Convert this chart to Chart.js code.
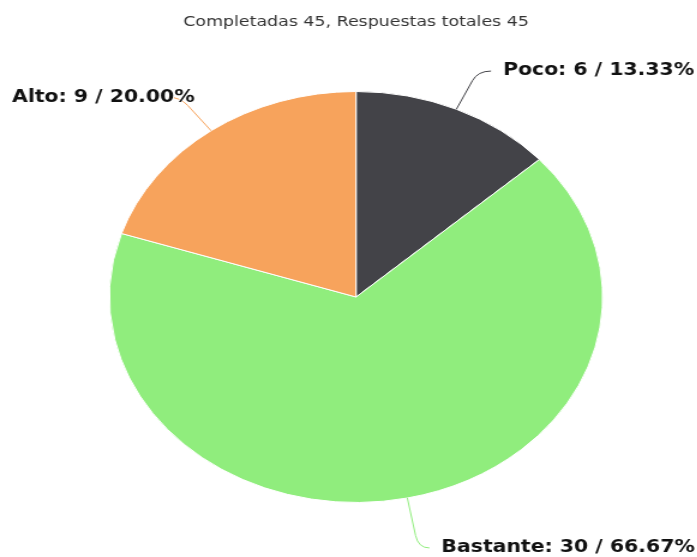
<!DOCTYPE html>
<html>
<head>
<meta charset="utf-8">
<script src="https://cdn.jsdelivr.net/npm/chart.js@4.4.1/dist/chart.umd.min.js"></script>
<style>
  html, body { margin: 0; padding: 0; background: #fff; overflow: hidden; }
  #wrap { width: 581px; height: 557px; transform: scaleX(1.2); transform-origin: 0 0; }
</style>
</head>
<body>
<div id="wrap"><canvas id="pieChart" width="581" height="557"></canvas></div>
<script>
const titleText = 'Completadas 45, Respuestas totales 45';
const categories = ['Poco', 'Bastante', 'Alto'];
const counts = [6, 30, 9];
const sliceColors = ['#434348', '#90ed7d', '#f7a35c'];

const total = counts.reduce((a, b) => a + b, 0);

// labels with connector lines, roughly the way the original tool drew them
const pieLabels = {
  id: 'pieLabels',
  afterDatasetsDraw(chart) {
    const ctx = chart.ctx;
    const arcs = chart.getDatasetMeta(0).data;
    const dist = 44;
    ctx.save();
    ctx.font = 'bold 17px "DejaVu Sans"';
    ctx.textBaseline = 'middle';
    const placed = arcs.map((arc, i) => {
      const mid = (arc.startAngle + arc.endAngle) / 2;
      const cos = Math.cos(mid), sin = Math.sin(mid);
      const r = arc.outerRadius;
      const edge = { x: arc.x + cos * r, y: arc.y + sin * r };
      const bend = { x: arc.x + cos * (r + dist), y: arc.y + sin * (r + dist) };
      const text = categories[i] + ': ' + counts[i] + ' / ' + (counts[i] / total * 100).toFixed(2) + '%';
      const w = ctx.measureText(text).width;
      const right = cos >= 0;
      let y = bend.y + 2 + 5 * Math.max(0, sin);
      y = Math.min(Math.max(y, 12), chart.height - 8);
      let tx = right ? bend.x + 21 : bend.x - 20 - w;
      tx = Math.max(10, Math.min(tx, chart.width - w - 2));
      const endX = right ? tx - 10 : bend.x - 10;
      return { i, edge, bend, y, tx, endX, text, right };
    });
    placed.forEach(p => {
      ctx.strokeStyle = sliceColors[p.i];
      ctx.lineWidth = 1;
      ctx.beginPath();
      ctx.moveTo(p.edge.x, p.edge.y);
      const kx = p.edge.x + (p.bend.x - p.edge.x) * 0.75;
      const ky = p.edge.y + (p.y - p.edge.y) * 0.75;
      ctx.lineTo(kx, ky);
      ctx.quadraticCurveTo(p.bend.x, p.y, p.endX > p.bend.x === p.right ? p.endX : p.bend.x, p.y);
      ctx.stroke();
    });
    placed.forEach(p => {
      ctx.lineWidth = 2;
      ctx.strokeStyle = 'rgba(255,255,255,0.8)';
      ctx.strokeText(p.text, p.tx, p.y);
      ctx.fillStyle = '#111';
      ctx.fillText(p.text, p.tx, p.y);
    });
    ctx.restore();
  }
};

new Chart(document.getElementById('pieChart'), {
  type: 'pie',
  data: {
    labels: categories,
    datasets: [{
      data: counts,
      backgroundColor: sliceColors,
      borderColor: '#ffffff',
      borderWidth: 1
    }]
  },
  options: {
    responsive: false,
    animation: false,
    layout: { padding: { left: 90.7, right: 78.3, top: 0, bottom: 54 } },
    plugins: {
      legend: { display: false },
      tooltip: { enabled: false },
      title: {
        display: true,
        text: titleText,
        color: '#333',
        font: { family: 'DejaVu Sans', size: 14.5, weight: 'normal' },
        padding: { top: 14, bottom: 59.6 }
      }
    }
  },
  plugins: [pieLabels]
});
</script>
</body>
</html>
